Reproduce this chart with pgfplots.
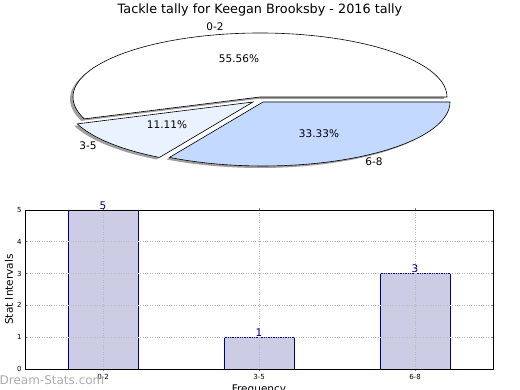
\documentclass[border=0pt]{standalone}
\usepackage{pgfplots}
\pgfplotsset{compat=1.18}
\usepackage{fontspec}
\setmainfont{DejaVu Sans}
\definecolor{barfill}{HTML}{CCCCE5}
\definecolor{navy}{HTML}{000080}
\definecolor{sliceB}{HTML}{EBF2FF}
\definecolor{sliceC}{HTML}{C4D9FF}
\begin{document}
\begin{tikzpicture}[x=1pt,y=1pt]
\useasboundingbox (0pt,0pt) rectangle (520pt,390pt);
% slice values: 0-2 = 5, 3-5 = 1, 6-8 = 3
\pgfmathsetmacro{\tot}{5+1+3}
\pgfmathsetmacro{\aA}{360*5/\tot}
\pgfmathsetmacro{\aB}{360*(5+1)/\tot}
\begin{axis}[at={(0pt,0pt)},anchor=south west,scale only axis,width=520pt,height=390pt,
  xmin=0,xmax=520,ymin=0,ymax=390,hide axis,clip=false]
% shadows
\addplot[draw=none,fill=gray!75,samples=90,domain=0:\aA] ({257+187*cos(x)},{291+64*sin(x)}) -- (axis cs:257,291) -- cycle;
\addplot[draw=none,fill=gray!75,samples=30,domain=\aA:\aB] ({250+187*cos(x)},{286+64*sin(x)}) -- (axis cs:250,286) -- cycle;
\addplot[draw=none,fill=gray!75,samples=60,domain=\aB:360] ({260+187*cos(x)},{286+64*sin(x)}) -- (axis cs:260,286) -- cycle;
% slices
\addplot[draw=black,line width=0.6pt,fill=white,samples=90,domain=0:\aA] ({260+187*cos(x)},{293+64*sin(x)}) -- (axis cs:260,293) -- cycle;
\addplot[draw=black,line width=0.6pt,fill=sliceB,samples=30,domain=\aA:\aB] ({253+187*cos(x)},{288+64*sin(x)}) -- (axis cs:253,288) -- cycle;
\addplot[draw=black,line width=0.6pt,fill=sliceC,samples=60,domain=\aB:360] ({263+187*cos(x)},{288+64*sin(x)}) -- (axis cs:263,288) -- cycle;
\end{axis}
\node[font=\fontsize{12.8}{14}\selectfont] at (260pt,380pt) {Tackle tally for Keegan Brooksby - 2016 tally};
\begin{scope}[every node/.style={font=\fontsize{10.5}{12}\selectfont}]
\node at (215pt,363pt) {0-2};
\node at (239pt,331pt) {55.56\%};
\node at (167pt,265pt) {11.11\%};
\node at (319pt,256pt) {33.33\%};
\node at (88pt,244pt) {3-5};
\node at (374pt,228pt) {6-8};
\end{scope}
\begin{axis}[at={(25pt,21pt)},anchor=south west,scale only axis,width=468pt,height=159pt,
  /pgf/number format/assume math mode=true,
  xmin=-0.5,xmax=2.5,ymin=0,ymax=5,
  xtick={0,1,2},xticklabels={0-2,3-5,6-8},ytick={0,1,2,3,4,5},
  grid=major,grid style={dotted,gray!55,line width=0.8pt},
  axis on top,
  axis line style={black,line width=0.8pt},
  tick style={gray,line width=0.6pt},major tick length=2pt,
  tick label style={font=\fontsize{7}{8}\selectfont},
  ylabel={Stat Intervals},
  ylabel style={font=\fontsize{10.5}{12}\selectfont,at={(axis description cs:-0.0342,0.5)},anchor=center},
  xlabel={Frequency},
  xlabel style={font=\fontsize{10.5}{12}\selectfont,at={(axis description cs:0.5,0)},anchor=center,yshift=-21pt},
  ybar,bar width=0.45,
  nodes near coords,
  every node near coord/.append style={font=\fontsize{10.5}{12}\selectfont,text=navy,inner sep=0.5pt},
]
\addplot[fill=barfill,draw=navy,line width=0.6pt] coordinates {(0,5) (1,1) (2,3)};
\end{axis}
\node[text=gray!65,font=\fontsize{12}{14}\selectfont] at (52pt,10pt) {Dream-Stats.com};
\end{tikzpicture}
\end{document}
